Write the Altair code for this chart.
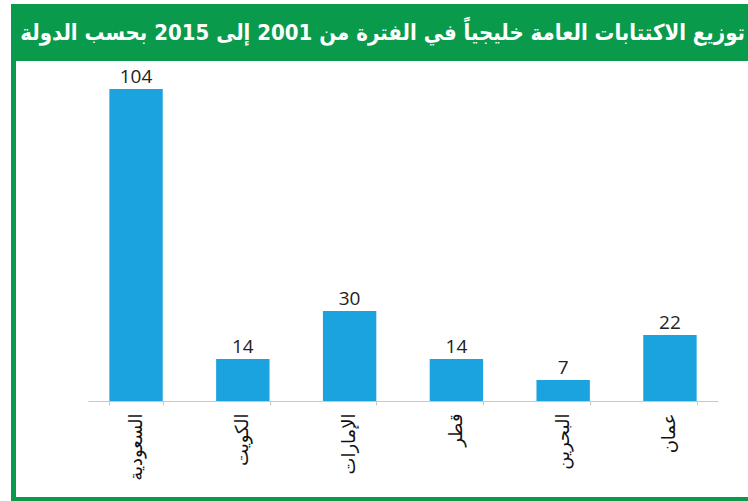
import altair as alt
import pandas as pd

countries = ["السعودية", "الكويت", "الإمارات", "قطر", "البحرين", "عمان"]
values = [104, 14, 30, 14, 7, 22]
title_text = "توزيع الاكتتابات العامة خليجياً في الفترة من 2001 إلى 2015 بحسب الدولة"

df = pd.DataFrame({"country": countries, "value": values})

GREEN = "#0A9A4C"
BLUE = "#1BA3DF"
W, H = 630, 336
PL, PT = 88, 65

x = alt.X("country:N", sort=countries, title=None,
          scale=alt.Scale(paddingInner=0.5, paddingOuter=0.2),
          axis=alt.Axis(labelAngle=270, labelFontSize=18, labelColor="#111",
                        labelFont="DejaVu Sans", labelPadding=8,
                        domainColor="#c8c8c8", tickColor="#c8c8c8", tickSize=4,
                        tickBand="extent", ticks=True))
y = alt.Y("value:Q", scale=alt.Scale(domain=[0, 112]), axis=None)

base = alt.Chart(df)
bars = base.mark_bar(color=BLUE).encode(x=x, y=y)
labels = base.mark_text(dy=-12, fontSize=19, color="#222", font="Open Sans").encode(
    x=x, y=y, text="value:Q")

frame_data = pd.DataFrame({"k": [0]})
title_bar = alt.Chart(frame_data).mark_rect(color=GREEN).encode(
    x=alt.value(11 - PL), x2=alt.value(748 - PL), y=alt.value(4 - PT), y2=alt.value(61 - PT))
left_line = alt.Chart(frame_data).mark_rect(color=GREEN).encode(
    x=alt.value(11 - PL), x2=alt.value(16 - PL), y=alt.value(4 - PT), y2=alt.value(501 - PT))
bottom_line = alt.Chart(frame_data).mark_rect(color=GREEN).encode(
    x=alt.value(11 - PL), x2=alt.value(748 - PL), y=alt.value(497 - PT), y2=alt.value(501 - PT))
title = alt.Chart(frame_data).mark_text(
    color="white", fontSize=22, fontWeight="bold", font="DejaVu Sans Condensed",
    align="right", baseline="middle").encode(
    x=alt.value(745 - PL), y=alt.value(33 - PT), text=alt.value(title_text))

chart = alt.layer(title_bar, left_line, bottom_line, title, bars, labels).properties(
    width=W, height=H,
    autosize=alt.AutoSizeParams(type="none"),
    padding={"left": PL, "top": PT, "right": 748 - PL - W, "bottom": 501 - PT - H},
    background="white",
).configure_view(stroke=None)

chart.save("out.html", embed_options={"renderer": "svg", "actions": False})
